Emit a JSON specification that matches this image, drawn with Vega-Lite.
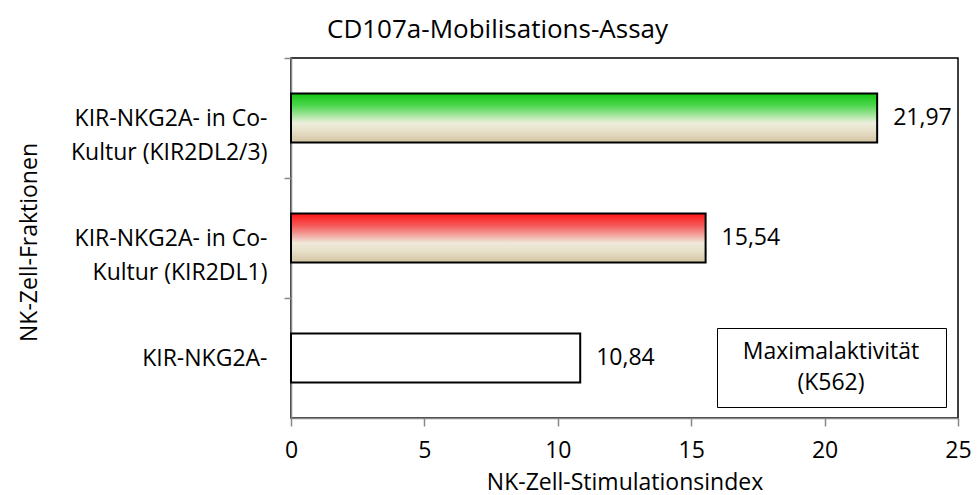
{
  "$schema": "https://vega.github.io/schema/vega-lite/v6.json",
  "width": 667,
  "height": 360,
  "autosize": "none",
  "padding": {"left": 291, "top": 58, "right": 20, "bottom": 77},
  "background": "white",
  "config": {
    "locale": {"number": {"decimal": ",", "thousands": ".", "grouping": [3], "currency": ["", " €"]}},
    "view": {"stroke": "black", "strokeWidth": 1.5},
    "font": "Open Sans",
    "style": {"guide-label": {"lineHeight": 31}}
  },
  "title": {
    "text": "CD107a-Mobilisations-Assay",
    "anchor": "middle",
    "frame": "group",
    "dx": -127,
    "dy": 25,
    "offset": 18,
    "baseline": "alphabetic",
    "font": "Open Sans",
    "fontSize": 26,
    "fontWeight": "normal",
    "color": "black"
  },
  "data": {
    "values": [
      {"fraktion": "KIR-NKG2A- in Co-Kultur (KIR2DL2/3)", "wert": 21.97, "gruppe": "KIR2DL2/3"},
      {"fraktion": "KIR-NKG2A- in Co-Kultur (KIR2DL1)", "wert": 15.54, "gruppe": "KIR2DL1"},
      {"fraktion": "KIR-NKG2A-", "wert": 10.84, "gruppe": "Maximalaktivität (K562)"}
    ]
  },
  "encoding": {
    "y": {
      "field": "fraktion",
      "type": "nominal",
      "sort": ["KIR-NKG2A- in Co-Kultur (KIR2DL2/3)", "KIR-NKG2A- in Co-Kultur (KIR2DL1)", "KIR-NKG2A-"],
      "scale": {"paddingInner": 0.59, "paddingOuter": 0.295},
      "axis": {
        "title": "NK-Zell-Fraktionen",
        "titleFont": "Open Sans",
        "titleFontSize": 23,
        "titleFontWeight": "normal",
        "titleColor": "black",
        "titleX": -262,
        "titleY": 184,
        "titleAngle": 270,
        "titleAlign": "center",
        "titleBaseline": "middle",
        "labelFont": "Open Sans",
        "labelFontSize": 23,
        "labelColor": "black",
        "labelAlign": "right",
        "labelBaseline": "middle",
        "labelPadding": 17,
        "labelLineHeight": 34,
        "labelLimit": 400,
        "labelExpr": "indexof(datum.label, 'Kultur') > 0 ? [substring(datum.label, 0, indexof(datum.label, 'Kultur')), substring(datum.label, indexof(datum.label, 'Kultur'))] : datum.label",
        "tickSize": 7,
        "tickOffset": -60,
        "labelOffset": 60,
        "tickColor": "#888888",
        "tickWidth": 1.5,
        "domainColor": "#888888",
        "domainWidth": 1.5,
        "grid": false
      }
    },
    "x": {
      "field": "wert",
      "type": "quantitative",
      "scale": {"domain": [0, 25], "nice": false},
      "axis": {
        "title": "NK-Zell-Stimulationsindex",
        "titleFont": "Open Sans",
        "titleFontSize": 23,
        "titleFontWeight": "normal",
        "titleColor": "black",
        "titleY": 64,
        "titleBaseline": "middle",
        "values": [0, 5, 10, 15, 20, 25],
        "format": "d",
        "labelFont": "Open Sans",
        "labelFontSize": 23,
        "labelColor": "black",
        "labelBaseline": "middle",
        "labelPadding": 24,
        "labelFlush": false,
        "tickSize": 8,
        "tickColor": "#888888",
        "tickWidth": 1.5,
        "domainColor": "#888888",
        "domainWidth": 1.5,
        "grid": false
      }
    }
  },
  "layer": [
    {
      "transform": [{"filter": "datum.gruppe === 'KIR2DL2/3'"}],
      "mark": {
        "type": "bar",
        "stroke": "black",
        "strokeWidth": 2,
        "color": {
          "gradient": "linear",
          "x1": 0, "y1": 0, "x2": 0, "y2": 1,
          "stops": [
            {"offset": 0, "color": "#12c412"},
            {"offset": 0.25, "color": "#4fd64f"},
            {"offset": 0.45, "color": "#a8e6a0"},
            {"offset": 0.6, "color": "#eeeedc"},
            {"offset": 0.75, "color": "#e8e1cb"},
            {"offset": 1, "color": "#d4c5a3"}
          ]
        }
      }
    },
    {
      "transform": [{"filter": "datum.gruppe === 'KIR2DL1'"}],
      "mark": {
        "type": "bar",
        "stroke": "black",
        "strokeWidth": 2,
        "color": {
          "gradient": "linear",
          "x1": 0, "y1": 0, "x2": 0, "y2": 1,
          "stops": [
            {"offset": 0, "color": "#ff1414"},
            {"offset": 0.25, "color": "#f55a5a"},
            {"offset": 0.45, "color": "#f2aaa2"},
            {"offset": 0.6, "color": "#efe8da"},
            {"offset": 0.75, "color": "#e8e1cb"},
            {"offset": 1, "color": "#d4c5a3"}
          ]
        }
      }
    },
    {
      "transform": [{"filter": "datum.gruppe === 'Maximalaktivität (K562)'"}],
      "mark": {"type": "bar", "stroke": "black", "strokeWidth": 2},
      "encoding": {
        "color": {
          "field": "gruppe",
          "type": "nominal",
          "scale": {"range": ["white"]},
          "legend": {
            "orient": "none",
            "legendX": 426,
            "legendY": 270,
            "title": "\u00a0",
            "titleOrient": "right",
            "titleFontSize": 1,
            "titlePadding": 15,
            "padding": 12,
            "strokeColor": "black",
            "fillColor": "white",
            "symbolType": "square",
            "symbolSize": 1,
            "symbolOpacity": 0,
            "symbolStrokeWidth": 0,
            "labelOffset": 79,
            "labelFont": "Open Sans",
            "labelFontSize": 23,
            "labelColor": "black",
            "labelAlign": "center",
            "labelLimit": 400,
            "labelExpr": "[substring(datum.label, 0, indexof(datum.label, ' (')), substring(datum.label, indexof(datum.label, ' (') + 1)]",
            "encode": {"labels": {"enter": {"lineHeight": {"value": 31}}}}
          }
        }
      }
    },
    {
      "mark": {"type": "text", "align": "left", "baseline": "middle", "dx": 16, "font": "Open Sans", "fontSize": 23, "color": "black"},
      "encoding": {
        "text": {"field": "wert", "type": "quantitative", "format": ".2f"}
      }
    }
  ]
}
